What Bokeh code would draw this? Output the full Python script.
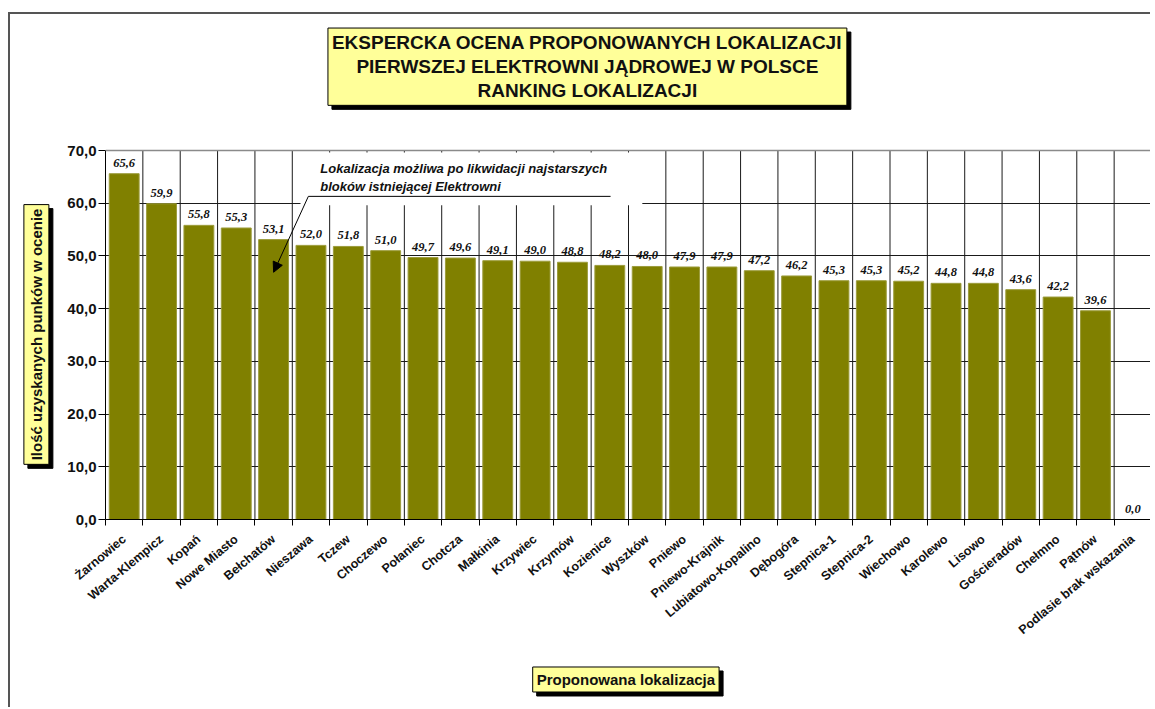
import math
from bokeh.plotting import figure
from bokeh.models import (ColumnDataSource, FixedTicker, Label, LabelSet,
                          BoxAnnotation, Arrow, NormalHead, Range1d, Span)
from bokeh.embed import file_html
from bokeh.resources import INLINE

# ---------------- data ----------------
categories = ["Żarnowiec", "Warta-Klempicz", "Kopań", "Nowe Miasto", "Bełchatów",
              "Nieszawa", "Tczew", "Choczewo", "Połaniec", "Chotcza", "Małkinia",
              "Krzywiec", "Krzymów", "Kozienice", "Wyszków", "Pniewo",
              "Pniewo-Krajnik", "Lubiatowo-Kopalino", "Dębogóra", "Stepnica-1",
              "Stepnica-2", "Wiechowo", "Karolewo", "Lisowo", "Gościeradów",
              "Chełmno", "Pątnów", "Podlasie brak wskazania"]
scores = [65.6, 59.9, 55.8, 55.3, 53.1, 52.0, 51.8, 51.0, 49.7, 49.6, 49.1,
          49.0, 48.8, 48.2, 48.0, 47.9, 47.9, 47.2, 46.2, 45.3, 45.3, 45.2,
          44.8, 44.8, 43.6, 42.2, 39.6, 0.0]
y_ticks = [0, 10, 20, 30, 40, 50, 60, 70]
y_tick_labels = ["0,0", "10,0", "20,0", "30,0", "40,0", "50,0", "60,0", "70,0"]

title_text = ("EKSPERCKA OCENA PROPONOWANYCH LOKALIZACJI\n"
              "PIERWSZEJ ELEKTROWNI JĄDROWEJ W POLSCE\n"
              "RANKING LOKALIZACJI")
y_title = "Ilość uzyskanych punków w ocenie"
x_title = "Proponowana lokalizacja"
note_text = ("Lokalizacja możliwa po likwidacji najstarszych\n"
             "bloków istniejącej Elektrowni")

# ---------------- derived ----------------
n = len(categories)
y_max = y_ticks[-1]
centers = [i + 0.5 for i in range(n)]
boundaries = list(range(n + 1))
value_labels = [f"{v:.1f}".replace(".", ",") for v in scores]
src = ColumnDataSource(dict(x=centers, top=scores, label=value_labels))
grid_src = ColumnDataSource(dict(x=boundaries[1:], y0=[0] * n, y1=[y_max] * n))

FONT = "Liberation Sans"
OLIVE = "#808000"
YELLOW = "#ffff99"
INK = "#111111"

# layout: plot area 1046 x 369 px for 0..70; the frame extends upward to hold the title
PLOT_W, PLOT_H, ABOVE = 1046, 369, 136
frame_top_value = y_max * (PLOT_H + ABOVE) / PLOT_H
DX = n / PLOT_W
DY = y_max / PLOT_H

p = figure(width=1142, height=695, x_range=Range1d(0, n),
           y_range=Range1d(0, frame_top_value),
           output_backend="svg", toolbar_location=None,
           min_border_left=95, min_border_right=1, min_border_top=0,
           min_border_bottom=190, background_fill_color="white",
           border_fill_color="white")
p.styles = {"margin-left": "8px", "margin-top": "12px",
            "border-left": "2px solid #555", "border-top": "2px solid #555"}
p.outline_line_color = None

# grids
p.xgrid.visible = False
p.ygrid.ticker = FixedTicker(ticks=y_ticks[1:-1])
p.ygrid.grid_line_color = "#1a1a1a"
p.segment(x0="x", y0="y0", x1="x", y1="y1", source=grid_src,
          line_color="#1a1a1a", line_width=1)
p.add_layout(Span(location=y_max, dimension="width", line_color="#8a8a8a",
                  line_width=1.5))

# x axis
p.xaxis.ticker = FixedTicker(ticks=centers, minor_ticks=boundaries)
p.xaxis.major_label_overrides = {c: nm for c, nm in zip(centers, categories)}
p.xaxis.major_tick_line_color = None
p.xaxis.minor_tick_line_color = "black"
p.xaxis.minor_tick_out = 6
p.xaxis.minor_tick_in = 0
p.xaxis.major_label_orientation = math.radians(40)
p.xaxis.major_label_text_font = FONT
p.xaxis.major_label_text_font_style = "bold"
p.xaxis.major_label_text_font_size = "12.5px"
p.xaxis.major_label_text_color = INK
p.xaxis.major_label_standoff = 12
p.xaxis.axis_line_color = "black"

# y axis
p.yaxis.ticker = FixedTicker(ticks=y_ticks)
p.yaxis.bounds = (0, y_max)
p.yaxis.major_label_overrides = dict(zip(y_ticks, y_tick_labels))
p.yaxis.minor_tick_line_color = None
p.yaxis.major_tick_out = 7
p.yaxis.major_tick_in = 0
p.yaxis.major_tick_line_color = "black"
p.yaxis.axis_line_color = "black"
p.yaxis.major_label_text_font = FONT
p.yaxis.major_label_text_font_style = "bold"
p.yaxis.major_label_text_font_size = "15px"
p.yaxis.major_label_text_color = INK
p.yaxis.major_label_standoff = 2

# bars
p.vbar(x="x", top="top", width=0.8, source=src, fill_color=OLIVE,
       line_color="#9c9c3c", line_width=1)

# value labels
p.add_layout(LabelSet(x="x", y="top", text="label", source=src,
                      text_align="center", text_baseline="bottom", y_offset=7,
                      text_font=FONT, text_font_style="bold italic",
                      text_font_size="12.5px", text_color=INK))

# annotation (Bełchatów note)
p.add_layout(BoxAnnotation(left=5.22, right=14.37, bottom=59.6, top=69.6,
                           fill_color="white", fill_alpha=1.0, line_color=None))
p.add_layout(Label(x=5.75, y=68.0, text=note_text, text_align="left",
                   text_baseline="top", text_font=FONT,
                   text_font_style="bold italic", text_font_size="13px",
                   text_color=INK, text_line_height=1.2))
p.add_layout(Arrow(x_start=5.43, y_start=61.3, x_end=13.52, y_end=61.3,
                   end=None, line_color="black", line_width=1))
p.add_layout(Arrow(x_start=5.43, y_start=61.3, x_end=4.5, y_end=46.9,
                   end=NormalHead(size=10, fill_color="black", line_color="black"),
                   line_color="black", line_width=1))


def boxed(text, x, y, size, side=None, angle=0.0, pad=5, line_height=1.2):
    common = dict(text=text, angle=angle, text_align="center",
                  text_baseline="middle", text_font=FONT, text_font_style="bold",
                  text_font_size=size, padding=pad, text_line_height=line_height,
                  border_line_color="black", border_line_width=1)
    shadow = Label(x=x + 4 * DX, y=y - 4 * DY, text_color="black",
                   background_fill_color="black", **common)
    main = Label(x=x, y=y, text_color=INK, background_fill_color=YELLOW, **common)
    if side is None:
        p.add_layout(shadow)
        p.add_layout(main)
    else:
        p.add_layout(shadow, side)
        p.add_layout(main, side)


boxed(title_text, 12.90, 85.9, "19px", None, pad=4, line_height=1.15)
boxed(y_title, -1.85, 35.1, "15px", "left", angle=math.pi / 2, pad=4)
boxed(x_title, 13.93, -30.35, "15px", "below", pad=4)

open("out.html", "w").write(file_html(p, INLINE))
